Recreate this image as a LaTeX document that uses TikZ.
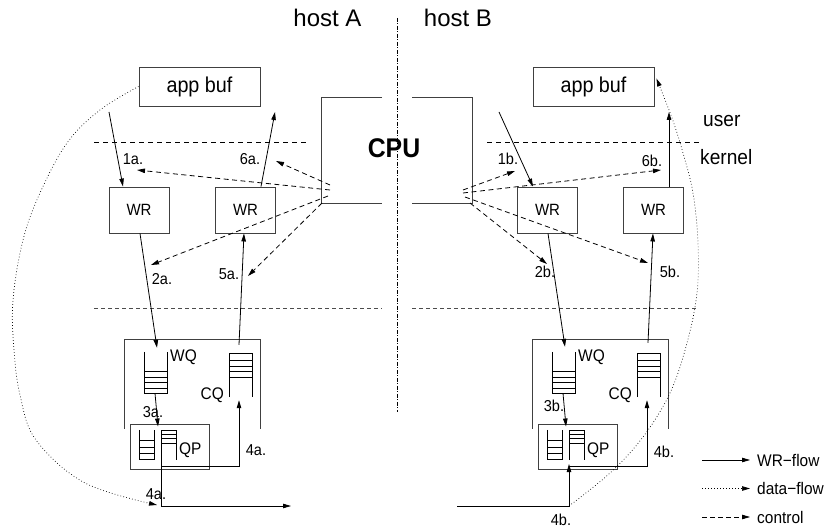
\documentclass[tikz,border=0pt]{standalone}
\usepackage{fontspec}
\setmainfont{Liberation Sans}[FakeStretch=0.92]
\newfontfamily\titlefont{Liberation Sans}
\usetikzlibrary{arrows.meta}
\begin{document}
\begin{tikzpicture}[x=1pt,y=-1pt,
  >={Triangle[length=8pt,width=4.5pt]},
  flow/.style={->,line width=0.8pt},
  ctrl/.style={->,line width=0.8pt,dash pattern=on 5pt off 3.5pt},
  data/.style={->,line width=0.7pt,dash pattern=on 0.7pt off 2.3pt},
  frame/.style={draw=black!75,line width=0.9pt},
  box/.style={draw=black!75,line width=0.9pt,inner sep=0pt},
  appbox/.style={box,minimum width=121,minimum height=39,font=\fontsize{21.5}{25}\selectfont},
  wrbox/.style={box,minimum width=60,minimum height=46,font=\fontsize{16.3}{19}\selectfont},
  qparea/.style={box,minimum width=79,minimum height=45},
  slot/.style={inner sep=0pt,minimum width=22,minimum height=41},
  queue/.style={draw=black,line width=0.8pt},
  lbl/.style={inner sep=0pt,anchor=base,font=\fontsize{15.8}{18}\selectfont},
  qlbl/.style={inner sep=0pt,font=\fontsize{16.8}{19}\selectfont},
  big/.style={inner sep=0pt,anchor=base west,font=\fontsize{20.8}{24}\selectfont},
  leg/.style={inner sep=0pt,anchor=west,font=\fontsize{16.8}{19}\selectfont},
  layer/.style={line width=0.8pt,dash pattern=on 5pt off 4pt},
  layerb/.style={draw=black!70,line width=0.8pt,dash pattern=on 4pt off 3pt},
  split/.style={line width=0.6pt,dash pattern=on 4pt off 1.5pt on 1pt off 1.5pt},
]
\useasboundingbox (0,0) rectangle (828,529);

% host titles
\node[inner sep=0pt,anchor=base,font=\titlefont\fontsize{24}{28}\selectfont] (hostA) at (327.5,27) {host A};
\node[inner sep=0pt,anchor=base,font=\titlefont\fontsize{24}{28}\selectfont] (hostB) at (458,27) {host B};

% user / kernel boundaries
\draw[layer] (94,142) -- (307,142);
\draw[layer] (487,142) -- (700,142);
\draw[layerb] (94,308) -- (382,308);
\draw[layerb] (412,308) -- (698,308);
\node[big] (user) at (703,127) {user};
\node[big] (kernel) at (700,165) {kernel};

% CPU
\draw[frame] (382,97) -| (321,203) -- (382,203);
\draw[frame] (412,97) -| (472,203) -- (412,203);
\node[inner sep=0pt,anchor=base,font=\bfseries\fontsize{27}{32}\selectfont] (cpu) at (394,158) {CPU};

% application buffers and work requests
\node[appbox] (appA) at (199.5,86.5) {app buf\hspace{16pt}};
\node[appbox] (appB) at (593.5,86.5) {app buf\hspace{12pt}};
\node[wrbox] (wrA1) at (139,210) {WR};
\node[wrbox] (wrA2) at (245.5,210) {WR};
\node[wrbox] (wrB1) at (547.5,210) {WR};
\node[wrbox] (wrB2) at (653.5,210) {WR};

% adapter with work, completion and queue-pair queues
\foreach \h/\dx in {A/0,B/408}{
 \begin{scope}[xshift=\dx]
  \draw[frame] (124,429) |- (260.5,339) -- (260.5,429);
  \node[slot] (wq\h) at (156,372.5) {};
  \draw[queue] (wq\h.north west) |- (wq\h.south east) -- (wq\h.north east);
  \foreach \y in {371,377,382,388} \draw[queue] (145,\y) -- (167,\y);
  \node[slot,minimum height=43] (cq\h) at (241,375.5) {};
  \draw[queue] (cq\h.south west) |- (cq\h.north east) -- (cq\h.south east);
  \foreach \y in {360,366,371,377} \draw[queue] (230,\y) -- (252,\y);
  \node[qparea] (qp\h) at (169.5,446.5) {};
  \draw[queue] (139,430) |- (154,459) -- (154,430);
  \foreach \y in {440,447,453} \draw[queue] (139,\y) -- (154,\y);
  \coordinate (qr\h) at (161,460);
  \draw[queue] (qr\h) |- (176,430) -- (176,460);
  \foreach \y in {434,438,443} \draw[queue] (161,\y) -- (176,\y);
  \node[qlbl,anchor=base west] (wql\h) at (170,362) {WQ};
  \node[qlbl,anchor=base east] (cql\h) at (224,400) {CQ};
  \node[qlbl,anchor=base west] (qpl\h) at (179,454) {QP};
  \draw[flow] ([xshift=-1pt]wq\h.south) -- ([shift={(-11.5,3)}]qp\h.north);
  \draw[flow] ([shift={(-8.5,-3)}]qp\h.south) -| ([shift={(-2,3)}]cq\h.south);
 \end{scope}
}

% work request flow
\coordinate (inA) at (109,112);
\coordinate (outA) at (275,112);
\coordinate (inB) at (499,112);
\coordinate (outB) at (669,112);
\draw[flow] (inA) -- ([xshift=-16pt]wrA1.north);
\draw[flow] ([xshift=15.5pt]wrA2.north) -- (outA);
\draw[flow] ([xshift=1pt]wrA1.south) -- ([shift={(1,-4)}]wqA.north);
\draw[flow] ([shift={(-2,-9)}]cqA.north) -- ([xshift=-1.5pt]wrA2.south);
\draw[flow] (inB) -- ([xshift=-14.5pt]wrB1.north);
\draw[flow] ([xshift=15.5pt]wrB2.north) -- (outB);
\draw[flow] ([xshift=0.5pt]wrB1.south) -- ([shift={(1,-5)}]wqB.north);
\draw[flow] ([shift={(-1,-11)}]cqB.north) -- ([xshift=-0.5pt]wrB2.south);

% wire between the hosts
\coordinate (wireA) at (291,506);
\coordinate (wireB) at (457,506);
\draw[flow] (qrA) |- (wireA);
\draw[flow] (wireB) -| ([shift={(0,4)}]qrB);
\coordinate (cornA) at (qrA |- wireA);
\coordinate (cornB) at (wireB -| qrB);

% control from the CPU
\coordinate (cA1) at (330,185); \coordinate (tA1) at (276,161);
\coordinate (cA2) at (330,190); \coordinate (tA2) at (137,170);
\coordinate (cA3) at (328,196); \coordinate (tA3) at (151,265);
\coordinate (cA4) at (322,203); \coordinate (tA4) at (248,276);
\coordinate (cB1) at (463,190); \coordinate (tB1) at (515,171);
\coordinate (cB2) at (463,193); \coordinate (tB2) at (661,170);
\coordinate (cB3) at (470,203); \coordinate (tB3) at (547,264);
\coordinate (cB4) at (465,197); \coordinate (tB4) at (648,263);
\foreach \s in {A1,A2,A3,A4,B1,B2,B3,B4} \draw[ctrl] (c\s) -- (t\s);

% data flow
\draw[data] plot[smooth,tension=0.6] coordinates {(appA.west) (100,110) (67,143) (40,193) (23,240) (13,300) (14,350) (20,395) (36,440) (85,483) ([shift={(-4,-1)}]cornA)};
\draw[data] plot[smooth,tension=0.6] coordinates {(cornB) (610,473) (643,437) (670,393) (687,343) (697,293) (698,243) (693,193) (683,153) (672,118) ([shift={(2,-8)}]appB.east)};

% step labels
\node[lbl] (s1a) at (133,165) {1a.};
\node[lbl] (s6a) at (250,165) {6a.};
\node[lbl] (s2a) at (162,285) {2a.};
\node[lbl] (s5a) at (229,280) {5a.};
\node[lbl] (s3a) at (153,418) {3a.};
\node[lbl] (s4a) at (256,455) {4a.};
\node[lbl] (s4aw) at (156,500) {4a.};
\node[lbl] (s1b) at (508,165) {1b.};
\node[lbl] (s6b) at (652,167) {6b.};
\node[lbl] (s2b) at (545,278) {2b.};
\node[lbl] (s5b) at (670,278) {5b.};
\node[lbl] (s3b) at (554,412) {3b.};
\node[lbl] (s4b) at (664,457) {4b.};
\node[lbl] (s4bw) at (561,525) {4b.};

% host separator
\draw[split] (397,18) -- (397,412);

% legend
\node[leg] (lgwr) at (757,460) {WR−flow};
\node[leg] (lgdata) at (757,488.5) {data−flow};
\node[leg] (lgctrl) at (757,517) {control};
\coordinate (lgwr0) at (702,460);
\coordinate (lgdata0) at (702,488.5);
\coordinate (lgctrl0) at (702,517);
\draw[flow] (lgwr0) -- ([xshift=-7pt]lgwr.west);
\draw[data] (lgdata0) -- ([xshift=-7pt]lgdata.west);
\draw[ctrl,dash pattern=on 5pt off 3pt] (lgctrl0) -- ([xshift=-7pt]lgctrl.west);
\end{tikzpicture}
\end{document}
